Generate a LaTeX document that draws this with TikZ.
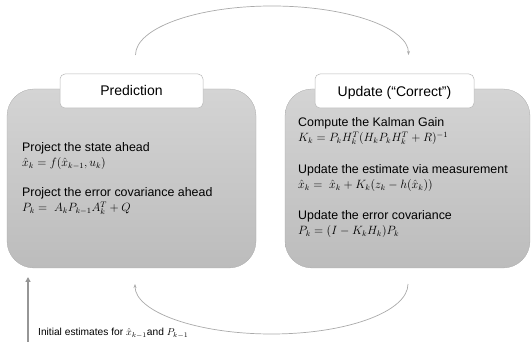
\documentclass[tikz,border=0pt]{standalone}
\usepackage{fontspec}
\setmainfont{Liberation Sans}
\usetikzlibrary{arrows.meta}
\definecolor{boxtop}{RGB}{212,212,212}
\definecolor{boxbot}{RGB}{188,188,188}
\definecolor{arcgray}{RGB}{170,170,170}
\definecolor{initgray}{RGB}{150,150,150}
\definecolor{tabline}{RGB}{185,185,185}
\tikzset{
  bigbox/.style={rounded corners=27pt, top color=boxtop, bottom color=boxbot,
    draw=boxbot!90!black, line width=0.3pt, inner sep=0pt},
  tabbox/.style={rounded corners=5pt, fill=white, draw=tabline, line width=0.5pt,
    inner sep=0pt},
  title/.style={font=\fontsize{14}{16}\selectfont, anchor=base, inner sep=0pt},
  body/.style={font=\fontsize{12.4}{14}\selectfont, anchor=base west, inner sep=0pt},
  formula/.style={font=\fontsize{12}{13}\selectfont, anchor=base west, inner sep=0pt},
  cycle/.style={draw=arcgray, line width=0.7pt, -{Stealth[length=4pt,width=3pt]}},
}
\begin{document}
\begin{tikzpicture}[x=1pt,y=-1pt]
\useasboundingbox (0,0) rectangle (531,347);

% main boxes
\node[bigbox, minimum width=249pt, minimum height=179pt] (pred) at (131.5,178.5) {};
\node[bigbox, minimum width=245pt, minimum height=179pt] (upd) at (407.5,178.5) {};

% title tabs
\node[tabbox, minimum width=143pt, minimum height=34pt] (predtab) at (131.5,91) {};
\node[tabbox, minimum width=159pt, minimum height=34pt] (updtab) at (394.5,91) {};
\node[title] (predtitle) at (131.5,96) {Prediction};
\node[title] (updtitle) at (394.5,96.5) {Update (“Correct”)};

% prediction step
\node[body] (p1) at (22,152) {Project the state ahead};
\node[formula] (p1f) at (22,166.5) {$\hat{x}_k = f(\hat{x}_{k-1}, u_k)$};
\node[body] (p2) at (22,197) {Project the error covariance ahead};
\node[formula] (p2f) at (22,211.5) {$P_k =\; A_k P_{k-1} A_k^T + Q$};

% update step
\node[body] (u1) at (298,127) {Compute the Kalman Gain};
\node[formula] (u1f) at (298,141.5) {$K_k = P_k H_k^T (H_k P_k H_k^T + R)^{-1}$};
\node[body] (u2) at (298,174) {Update the estimate via measurement};
\node[formula] (u2f) at (298,189) {$\hat{x}_k =\; \hat{x}_k + K_k(z_k - h(\hat{x}_k))$};
\node[body] (u3) at (298,220) {Update the error covariance};
\node[formula] (u3f) at (298,235) {$P_k = (I - K_k H_k) P_k$};

% cycle arrows between the two steps
\coordinate (topstart) at (135.5,55);
\coordinate (botstart) at (408,284);
\draw[cycle] (topstart) arc[start angle=180, end angle=0, x radius=136.5pt, y radius=49pt];
\draw[cycle] (botstart) arc[start angle=0, end angle=-180, x radius=136.5pt, y radius=50pt];

% initial estimates
\coordinate (initfoot) at (28,342);
\coordinate (inithead) at (28,277);
\draw[initgray, line width=1.8pt, -{Triangle[length=5pt,width=5pt]}] (initfoot) -- (inithead);
\node[anchor=base west, inner sep=0pt, font=\fontsize{10.2}{12}\selectfont] (init) at (38,336)
  {Initial estimates for $\hat{x}_{k-1}$and $P_{k-1}$};
\end{tikzpicture}
\end{document}
